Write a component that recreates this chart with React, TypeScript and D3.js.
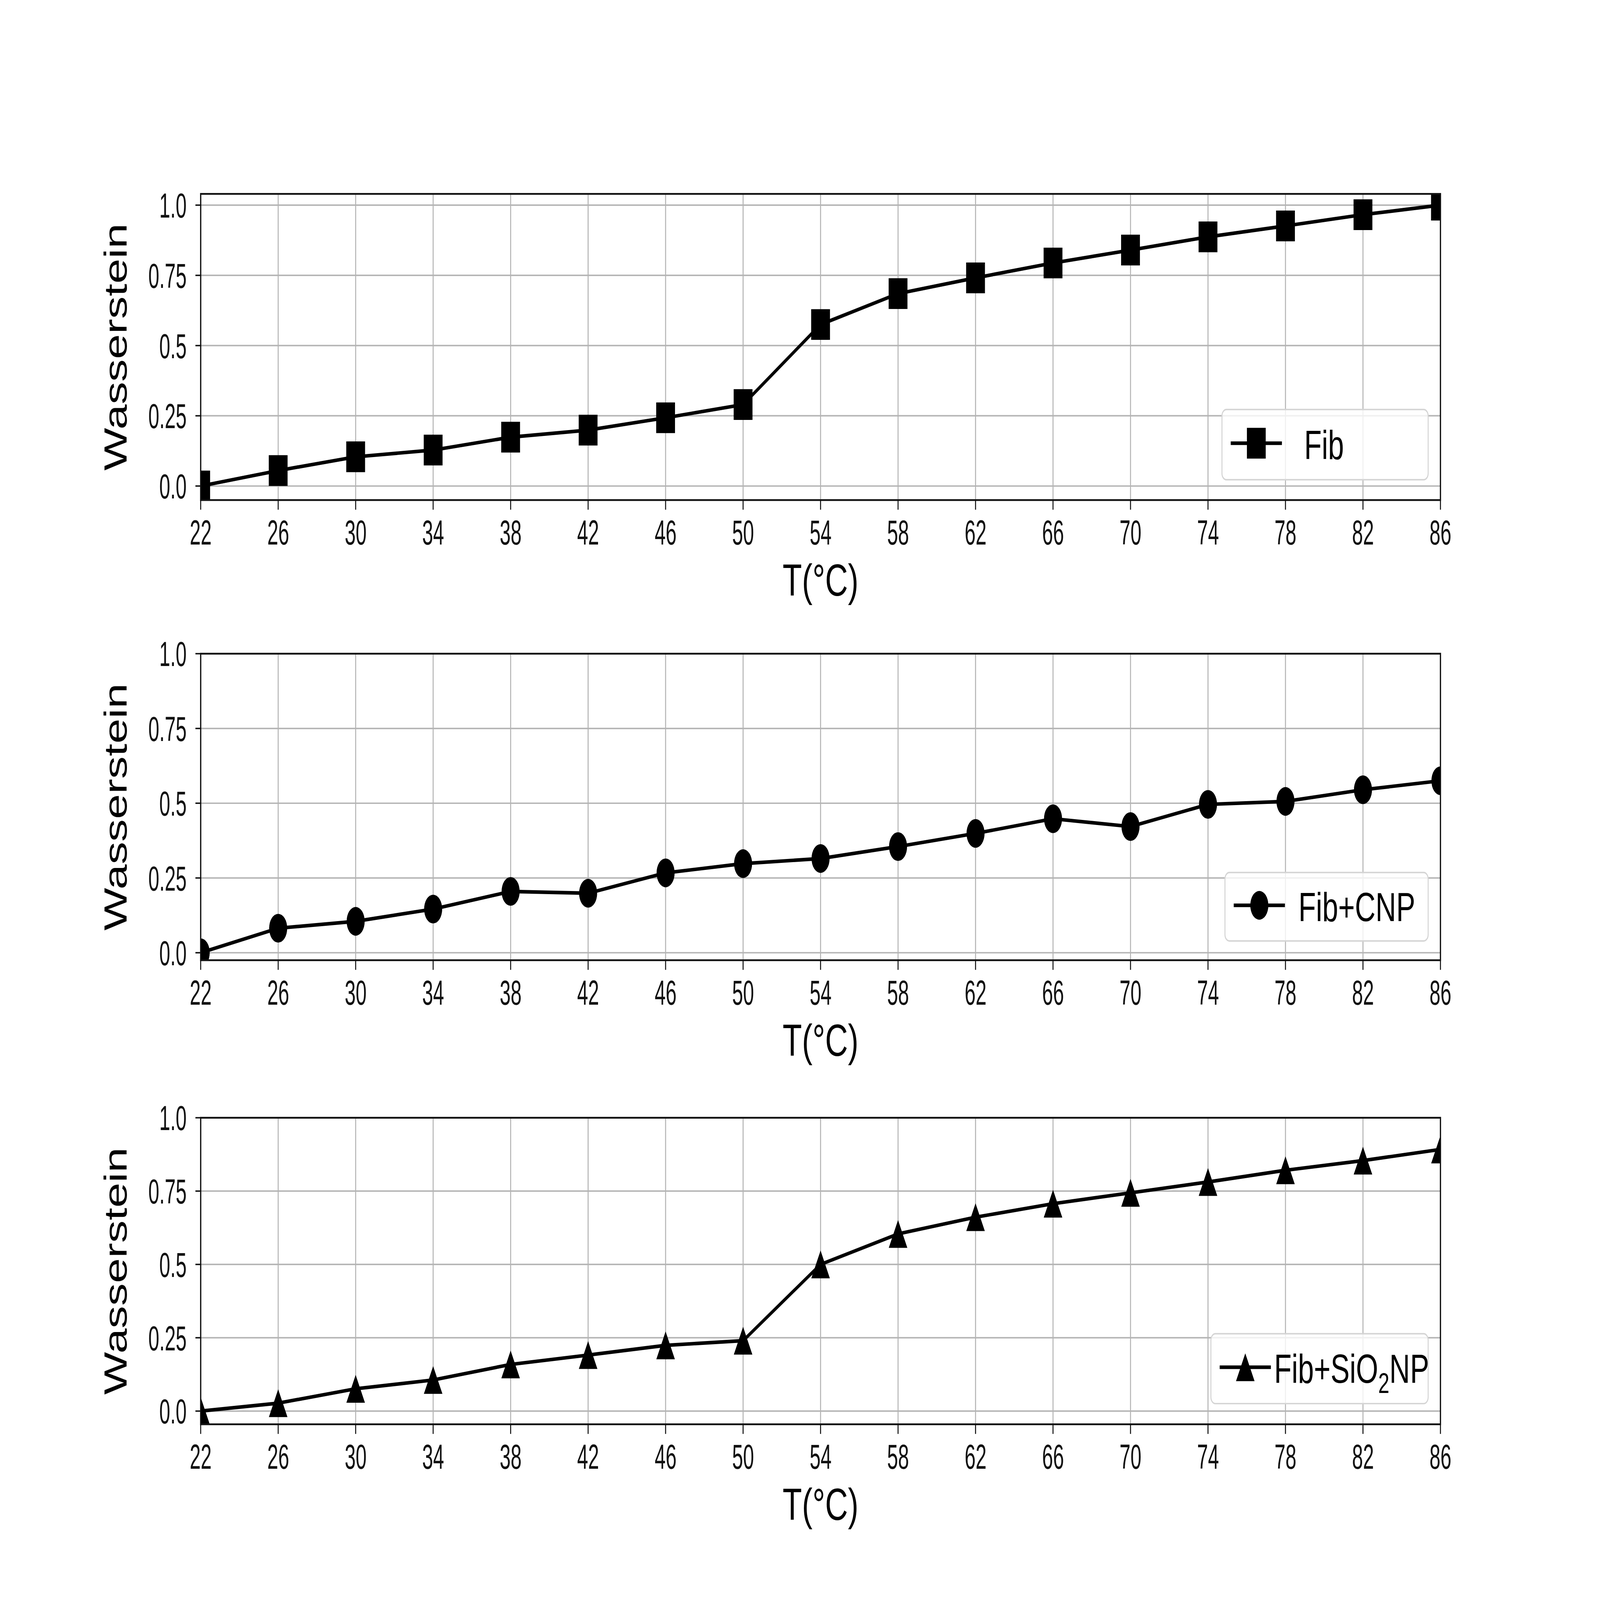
import React, { useRef, useEffect } from "react";
import * as d3 from "d3";

// temperatures (deg C) shared by all three panels
const temps = [22, 26, 30, 34, 38, 42, 46, 50, 54, 58, 62, 66, 70, 74, 78, 82, 86];

// Wasserstein distance
const fibValues = [0.0, 0.055, 0.104, 0.128, 0.174, 0.199, 0.243, 0.29, 0.575, 0.685, 0.741, 0.794, 0.84, 0.887, 0.926, 0.966, 1.0];
const cnpValues = [0.0, 0.082, 0.105, 0.146, 0.205, 0.199, 0.267, 0.298, 0.315, 0.355, 0.399, 0.448, 0.422, 0.496, 0.506, 0.545, 0.575];
const sio2Values = [0.0, 0.027, 0.076, 0.106, 0.159, 0.191, 0.224, 0.24, 0.5, 0.604, 0.661, 0.707, 0.744, 0.781, 0.821, 0.854, 0.892];

const yTicks = [0, 0.25, 0.5, 0.75, 1.0];
const yTickLabels = ["0.0", "0.25", "0.5", "0.75", "1.0"];

const W = 6378;
const H = 4489;
const FONT = "'Liberation Sans', Arial, Helvetica, sans-serif";

type Marker = "square" | "circle" | "triangle";

type Panel = {
  values: number[];
  marker: Marker;
  name: string;
  top: number;
  bottom: number;
  yDomain: [number, number];
  legend: { x: number; y: number; w: number; h: number; textGap: number };
};

const panels: Panel[] = [
  {
    values: fibValues,
    marker: "square",
    name: "Fib",
    top: 544,
    bottom: 1403,
    yDomain: [-0.05, 1.04],
    legend: { x: 4871, y: 1149, w: 822, h: 197, textGap: 89 },
  },
  {
    values: cnpValues,
    marker: "circle",
    name: "Fib+CNP",
    top: 1834,
    bottom: 2694,
    yDomain: [-0.025, 1.0],
    legend: { x: 4883, y: 2448, w: 810, h: 192, textGap: 54 },
  },
  {
    values: sio2Values,
    marker: "triangle",
    name: "Fib+SiO2NP",
    top: 3136,
    bottom: 3996,
    yDomain: [-0.045, 1.0],
    legend: { x: 4827, y: 3742, w: 866, h: 196, textGap: 13 },
  },
];

const margin = { left: 800, right: 636 };

function markerPath(kind: Marker): string {
  if (kind === "square") return d3.symbol(d3.symbolSquare, 75 * 75)()!;
  if (kind === "circle") return d3.symbol(d3.symbolCircle, Math.PI * 36 * 36)()!;
  const tri = d3.line().curve(d3.curveLinearClosed);
  return tri([
    [0, -39],
    [-37, 39],
    [37, 39],
  ])!;
}

function markerTransform(kind: Marker, x: number, y: number): string {
  if (kind === "square") return `translate(${x},${y}) scale(1,1.15)`;
  if (kind === "circle") return `translate(${x},${y}) scale(1,1.12)`;
  return `translate(${x},${y})`;
}

const App: React.FC = () => {
  const svgRef = useRef<SVGSVGElement | null>(null);

  useEffect(() => {
    const svg = d3.select(svgRef.current);
    svg.selectAll("*").remove();

    svg.append("rect").attr("width", W).attr("height", H).attr("fill", "#fff");

    const x = d3
      .scaleLinear()
      .domain([temps[0], temps[temps.length - 1]])
      .range([margin.left, W - margin.right]);

    panels.forEach((p, i) => {
      const y = d3.scaleLinear().domain(p.yDomain).range([p.bottom, p.top]);
      const g = svg.append("g");
      const clipId = `clip-${i}`;

      g.append("clipPath")
        .attr("id", clipId)
        .append("rect")
        .attr("x", x.range()[0])
        .attr("y", p.top)
        .attr("width", x.range()[1] - x.range()[0])
        .attr("height", p.bottom - p.top);

      // grid
      g.append("g")
        .selectAll("line")
        .data(temps)
        .enter()
        .append("line")
        .attr("x1", (d) => x(d))
        .attr("x2", (d) => x(d))
        .attr("y1", p.top)
        .attr("y2", p.bottom)
        .attr("stroke", "#b4b4b4")
        .attr("stroke-width", 4);

      g.append("g")
        .selectAll("line")
        .data(yTicks)
        .enter()
        .append("line")
        .attr("x1", x.range()[0])
        .attr("x2", x.range()[1])
        .attr("y1", (d) => y(d))
        .attr("y2", (d) => y(d))
        .attr("stroke", "#b4b4b4")
        .attr("stroke-width", 4);

      // data line + markers
      const line = d3
        .line<number>()
        .x((_, j) => x(temps[j]))
        .y((d) => y(d));

      const plot = g.append("g").attr("clip-path", `url(#${clipId})`);
      plot
        .append("path")
        .datum(p.values)
        .attr("d", line)
        .attr("fill", "none")
        .attr("stroke", "#000")
        .attr("stroke-width", 10)
        .attr("stroke-linejoin", "round");

      plot
        .selectAll(".mk")
        .data(p.values)
        .enter()
        .append("path")
        .attr("class", "mk")
        .attr("d", markerPath(p.marker))
        .attr("transform", (d, j) => markerTransform(p.marker, x(temps[j]), y(d)))
        .attr("fill", "#000");

      // spines
      g.append("rect")
        .attr("x", x.range()[0])
        .attr("y", p.top)
        .attr("width", x.range()[1] - x.range()[0])
        .attr("height", p.bottom - p.top)
        .attr("fill", "none")
        .attr("stroke", "#111")
        .attr("stroke-width", 5);

      // x ticks
      const xt = g.append("g");
      temps.forEach((t) => {
        xt.append("line")
          .attr("x1", x(t))
          .attr("x2", x(t))
          .attr("y1", p.bottom)
          .attr("y2", p.bottom + 27)
          .attr("stroke", "#111")
          .attr("stroke-width", 4);
        xt.append("text")
          .attr("transform", `translate(${x(t)},${p.bottom + 125}) scale(0.8,1)`)
          .attr("text-anchor", "middle")
          .attr("font-family", FONT)
          .attr("font-size", 98)
          .attr("fill", "#111")
          .text(String(t));
      });

      // y ticks
      const yt = g.append("g");
      yTicks.forEach((v, k) => {
        yt.append("line")
          .attr("x1", x.range()[0] - 21)
          .attr("x2", x.range()[0])
          .attr("y1", y(v))
          .attr("y2", y(v))
          .attr("stroke", "#111")
          .attr("stroke-width", 4);
        yt.append("text")
          .attr("transform", `translate(${x.range()[0] - 56},${y(v) + 35}) scale(0.8,1)`)
          .attr("text-anchor", "end")
          .attr("font-family", FONT)
          .attr("font-size", 98)
          .attr("fill", "#111")
          .text(yTickLabels[k]);
      });

      // axis labels
      g.append("text")
        .attr("transform", `translate(505,${(p.top + p.bottom) / 2}) rotate(-90)`)
        .attr("text-anchor", "middle")
        .attr("font-family", FONT)
        .attr("font-size", 127)
        .attr("fill", "#000")
        .text("Wasserstein");

      g.append("text")
        .attr("x", (x.range()[0] + x.range()[1]) / 2)
        .attr("y", p.bottom + 268)
        .attr("text-anchor", "middle")
        .attr("font-family", FONT)
        .attr("font-size", 126)
        .attr("fill", "#000")
        .text("T(°C)");

      // legend
      const L = p.legend;
      const lg = g.append("g");
      lg.append("rect")
        .attr("x", L.x)
        .attr("y", L.y)
        .attr("width", L.w)
        .attr("height", L.h)
        .attr("rx", 18)
        .attr("fill", "#fff")
        .attr("fill-opacity", 0.8)
        .attr("stroke", "#d4d4d4")
        .attr("stroke-width", 4);

      const cy = L.y + L.h / 2 - 4;
      const lx0 = L.x + 35;
      const lx1 = lx0 + 204;
      lg.append("line")
        .attr("x1", lx0)
        .attr("x2", lx1)
        .attr("y1", cy)
        .attr("y2", cy)
        .attr("stroke", "#000")
        .attr("stroke-width", 10);
      lg.append("path")
        .attr("d", markerPath(p.marker))
        .attr("transform", markerTransform(p.marker, (lx0 + lx1) / 2, cy))
        .attr("fill", "#000");

      const label = lg
        .append("text")
        .attr("x", lx1 + L.textGap)
        .attr("y", cy + 44)
        .attr("font-family", FONT)
        .attr("font-size", 114)
        .attr("fill", "#000");
      if (p.name === "Fib+SiO2NP") {
        label.append("tspan").text("Fib+SiO");
        label.append("tspan").attr("font-size", 80).attr("dy", 28).text("2");
        label.append("tspan").attr("dy", -28).text("NP");
      } else {
        label.text(p.name);
      }
    });
  }, []);

  return (
    <svg
      ref={svgRef}
      viewBox={`0 0 ${W} ${H}`}
      preserveAspectRatio="none"
      style={{
        position: "fixed",
        left: 0,
        top: 0,
        width: "100vw",
        height: "100vh",
        display: "block",
        background: "#fff",
      }}
    />
  );
};

export default App;
